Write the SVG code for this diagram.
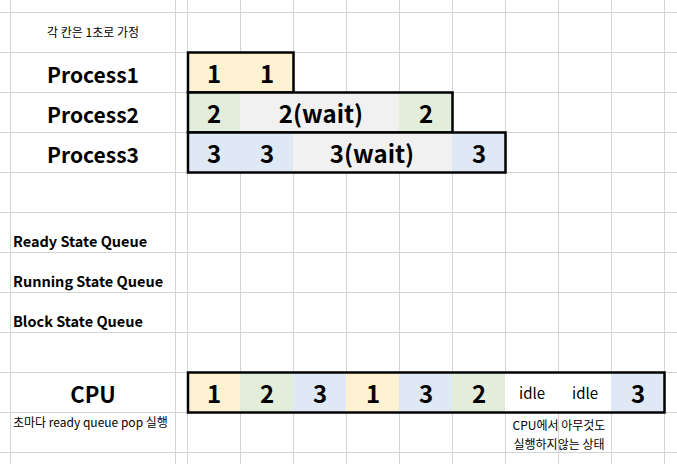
<svg xmlns="http://www.w3.org/2000/svg" width="677" height="464" viewBox="0 0 677 464">
<style>
.grid line{stroke:#d4d4d4;stroke-width:1}
.box{fill:none;stroke:#000;stroke-width:2.5}
.t{font-family:"Noto Sans CJK KR","Noto Sans",sans-serif;fill:#000}
.big{font-size:21px;font-weight:bold;text-anchor:middle}
.cpu{font-size:24px;font-weight:bold;text-anchor:middle}
.q{font-size:14.5px;font-weight:bold}
.sm{font-size:12px}
.idle{font-size:15px;text-anchor:middle}
.y{fill:#fcf2d2}.g{fill:#e3eddb}.b{fill:#dfe9f5}.w{fill:#f1f1f1}
</style>
<rect width="677" height="464" fill="#fff"/>
<g id="grid" class="grid">
<line x1="10.5" y1="0" x2="10.5" y2="464"/>
<line x1="175.5" y1="0" x2="175.5" y2="464"/>
<line x1="187.5" y1="0" x2="187.5" y2="464"/>
<line x1="240.5" y1="0" x2="240.5" y2="464"/>
<line x1="293.5" y1="0" x2="293.5" y2="464"/>
<line x1="346.5" y1="0" x2="346.5" y2="464"/>
<line x1="399.5" y1="0" x2="399.5" y2="464"/>
<line x1="452.5" y1="0" x2="452.5" y2="464"/>
<line x1="505.5" y1="0" x2="505.5" y2="464"/>
<line x1="558.5" y1="0" x2="558.5" y2="464"/>
<line x1="611.5" y1="0" x2="611.5" y2="464"/>
<line x1="664.5" y1="0" x2="664.5" y2="464"/>
<line x1="0" y1="12.5" x2="677" y2="12.5"/>
<line x1="0" y1="52.5" x2="677" y2="52.5"/>
<line x1="0" y1="92.5" x2="677" y2="92.5"/>
<line x1="0" y1="132.5" x2="677" y2="132.5"/>
<line x1="0" y1="172.5" x2="677" y2="172.5"/>
<line x1="0" y1="212.5" x2="677" y2="212.5"/>
<line x1="0" y1="252.5" x2="677" y2="252.5"/>
<line x1="0" y1="292.5" x2="677" y2="292.5"/>
<line x1="0" y1="332.5" x2="677" y2="332.5"/>
<line x1="0" y1="372.5" x2="677" y2="372.5"/>
<line x1="0" y1="412.5" x2="677" y2="412.5"/>
<line x1="0" y1="452.5" x2="677" y2="452.5"/>
</g>
<g id="note-top"><text class="t sm" x="93" y="37" text-anchor="middle">각 칸은 1초로 가정</text></g>
<g id="process1">
<rect class="y" x="188" y="53" width="105" height="39"/>
<rect class="box" x="188" y="52.5" width="105.5" height="40"/>
<text class="t big" x="93" y="83">Process1</text>
<text class="t cpu" x="214" y="83">1</text>
<text class="t cpu" x="267" y="83">1</text>
</g>
<g id="process2">
<rect class="g" x="188" y="93" width="52" height="39"/>
<rect class="w" x="240" y="93" width="159" height="39"/>
<rect class="g" x="399" y="93" width="53" height="39"/>
<rect class="box" x="188" y="92.5" width="264.5" height="40"/>
<text class="t big" x="93" y="123">Process2</text>
<text class="t cpu" x="214" y="123">2</text>
<text class="t cpu" x="321" y="123">2(wait)</text>
<text class="t cpu" x="426" y="123">2</text>
</g>
<g id="process3">
<rect class="b" x="188" y="133" width="105" height="39"/>
<rect class="w" x="293" y="133" width="159" height="39"/>
<rect class="b" x="452" y="133" width="53" height="39"/>
<rect class="box" x="188" y="132.5" width="317.5" height="40"/>
<text class="t big" x="93" y="163">Process3</text>
<text class="t cpu" x="214" y="163">3</text>
<text class="t cpu" x="267" y="163">3</text>
<text class="t cpu" x="372" y="163">3(wait)</text>
<text class="t cpu" x="479" y="163">3</text>
</g>
<g id="queues">
<text class="t q" x="13" y="247">Ready State Queue</text>
<text class="t q" x="13" y="287">Running State Queue</text>
<text class="t q" x="13" y="327">Block State Queue</text>
</g>
<g id="cpu">
<rect class="y" x="188" y="373" width="52" height="39"/>
<rect class="g" x="240" y="373" width="53" height="39"/>
<rect class="b" x="293" y="373" width="53" height="39"/>
<rect class="y" x="346" y="373" width="53" height="39"/>
<rect class="b" x="399" y="373" width="53" height="39"/>
<rect class="g" x="452" y="373" width="53" height="39"/>
<rect fill="#fff" x="505" y="373" width="106" height="39"/>
<rect class="b" x="611" y="373" width="53" height="39"/>
<rect class="box" x="188" y="372.5" width="476.5" height="40"/>
<text class="t big" x="93" y="403" style="font-size:22px">CPU</text>
<text class="t cpu" x="214" y="403">1</text>
<text class="t cpu" x="267" y="403">2</text>
<text class="t cpu" x="320" y="403">3</text>
<text class="t cpu" x="373" y="403">1</text>
<text class="t cpu" x="426" y="403">3</text>
<text class="t cpu" x="479" y="403">2</text>
<text class="t idle" x="532" y="399">idle</text>
<text class="t idle" x="585" y="399">idle</text>
<text class="t cpu" x="638" y="403">3</text>
</g>
<g id="notes">
<text class="t sm" x="13" y="427">초마다 ready queue pop 실행</text>
<text class="t sm" x="559" y="430" text-anchor="middle">CPU에서 아무것도</text>
<text class="t sm" x="559" y="449" text-anchor="middle">실행하지않는 상태</text>
</g>
</svg>
